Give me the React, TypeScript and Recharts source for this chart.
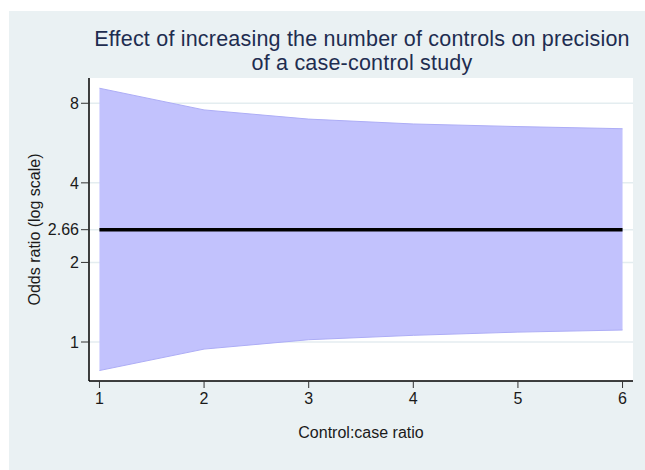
import { Area, CartesianGrid, ComposedChart, Label, Line, XAxis, YAxis } from 'recharts';

// control:case ratio
const ratios = [1, 2, 3, 4, 5, 6];
// 95% CI bounds for the odds ratio
const lowerCI = [0.78, 0.94, 1.02, 1.06, 1.09, 1.11];
const upperCI = [9.12, 7.55, 6.97, 6.68, 6.53, 6.41];
const oddsRatio = 2.66;

const xTicks = [1, 2, 3, 4, 5, 6];
const yTicks = [1, 2, 2.66, 4, 8];

const FONT = '"Liberation Sans", Arial, Helvetica, sans-serif';
const BG = '#eaf1f3';

const data = ratios.map((r, i) => ({
  ratio: r,
  ci: [lowerCI[i], upperCI[i]],
  or: oddsRatio,
}));

export default function App() {
  return (
    <div style={{ paddingLeft: 9, paddingTop: 11, fontFamily: FONT }}>
      <style>{'html{overflow:hidden}body{margin:0}'}</style>
      <div style={{ position: 'relative', width: 636, height: 459, background: BG }}>
        <div
          style={{
            position: 'absolute',
            left: 0,
            top: 16,
            width: 636,
            paddingLeft: 70,
            boxSizing: 'border-box',
            textAlign: 'center',
            fontSize: 21.5,
            lineHeight: '24px',
            letterSpacing: 0.2,
            color: '#1e2d50',
            whiteSpace: 'nowrap',
          }}
        >
          <div>Effect of increasing the number of controls on precision</div>
          <div>of a case-control study</div>
        </div>
        <ComposedChart
          width={636}
          height={459}
          data={data}
          margin={{ top: 67, right: 12, left: 20, bottom: 29 }}
          style={{ position: 'absolute', left: 0, top: 0 }}
        >
          <CartesianGrid
            fill="#ffffff"
            stroke="#e4edf0"
            strokeWidth={1.5}
            vertical={false}
            horizontalValues={yTicks}
          />
          <XAxis
            dataKey="ratio"
            type="number"
            domain={[0.9, 6.1]}
            ticks={xTicks}
            allowDataOverflow
            height={60}
            axisLine={{ stroke: '#000', strokeWidth: 1.5 }}
            tickLine={{ stroke: '#333' }}
            tickSize={7}
            tickMargin={5}
            tick={{ fill: '#1a1a1a', fontSize: 16, fontFamily: FONT }}
          >
            <Label
              value="Control:case ratio"
              position="insideBottom"
              offset={3}
              style={{ fill: '#1a1a1a', fontSize: 16, fontFamily: FONT }}
            />
          </XAxis>
          <YAxis
            type="number"
            scale="log"
            domain={[0.712, 9.97]}
            ticks={yTicks}
            allowDataOverflow
            width={60}
            axisLine={{ stroke: '#000', strokeWidth: 1.5 }}
            tickLine={{ stroke: '#333' }}
            tickSize={8}
            tickMargin={2}
            tick={{ fill: '#1a1a1a', fontSize: 16, fontFamily: FONT }}
          >
            <Label
              value="Odds ratio (log scale)"
              angle={-90}
              position="insideLeft"
              offset={5}
              style={{ fill: '#1a1a1a', fontSize: 16, fontFamily: FONT, textAnchor: 'middle' }}
            />
          </YAxis>
          <Area
            dataKey="ci"
            type="linear"
            fill="#c2c2fd"
            fillOpacity={1}
            stroke="#adadf6"
            strokeWidth={1}
            isAnimationActive={false}
          />
          <Line
            dataKey="or"
            type="linear"
            stroke="#000"
            strokeWidth={3.5}
            dot={false}
            isAnimationActive={false}
          />
        </ComposedChart>
      </div>
    </div>
  );
}
